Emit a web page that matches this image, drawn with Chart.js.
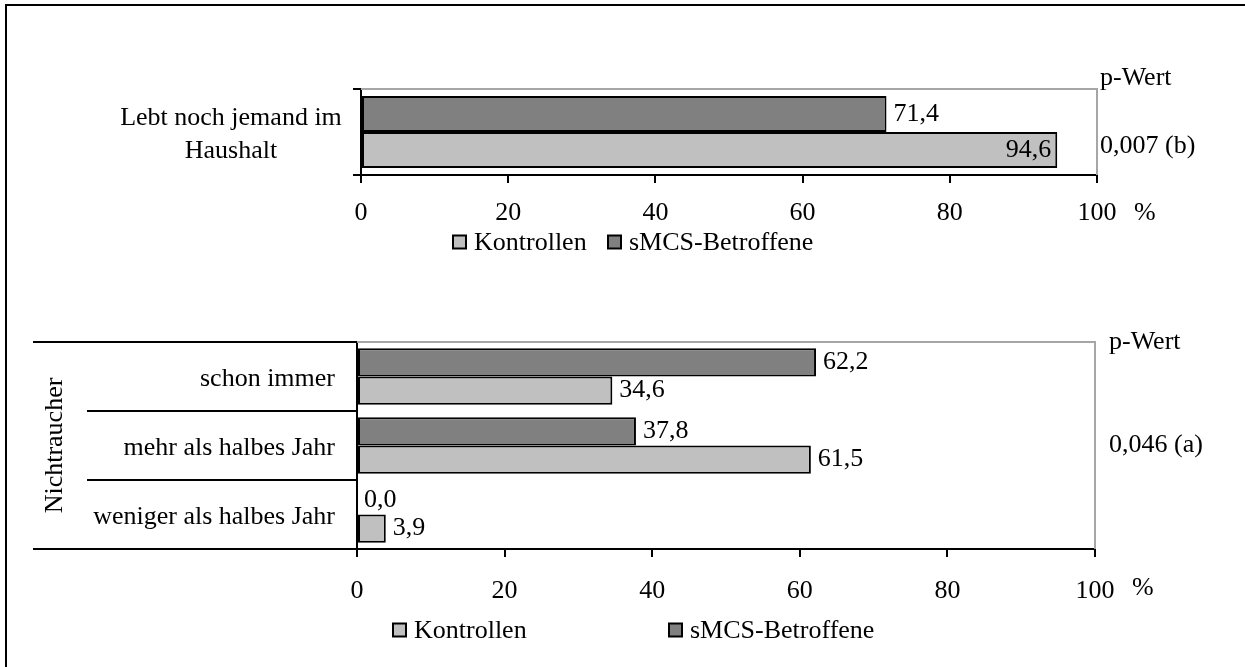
<!DOCTYPE html>
<html>
<head>
<meta charset="utf-8">
<title>Haushalt / Nichtraucher</title>
<script src="https://cdn.jsdelivr.net/npm/chart.js@4.4.0/dist/chart.umd.min.js"></script>
<style>
  html, body { margin: 0; padding: 0; background: #fff; }
  #page { position: relative; width: 1245px; height: 667px; overflow: hidden; background: #fff; }
  #frame { position: absolute; left: 5px; top: 4px; width: 1300px; height: 700px; border: 2px solid #000; }
  canvas { position: absolute; left: 0; }
  #topChart { top: 0; }
  #bottomChart { top: 300px; }
</style>
</head>
<body>
<div id="page">
  <div id="frame"></div>
  <canvas id="topChart" width="1245" height="300"></canvas>
  <canvas id="bottomChart" width="1245" height="367"></canvas>
</div>

<script>
// ===================================================
// Data
// ===================================================
const seriesNames = ["Kontrollen", "sMCS-Betroffene"];

const topCategories = [["Lebt noch jemand im", "Haushalt"]];
const topKontrollen = [94.6];
const topBetroffene = [71.4];
const topPValue = "0,007 (b)";

const bottomGroup = "Nichtraucher";
const bottomCategories = ["schon immer", "mehr als halbes Jahr", "weniger als halbes Jahr"];
const bottomKontrollen = [34.6, 61.5, 3.9];
const bottomBetroffene = [62.2, 37.8, 0.0];
const bottomPValue = "0,046 (a)";

const pLabel = "p-Wert";
const unitLabel = "%";
const xMin = 0, xMax = 100, xStep = 20;

// --- Style ---
const FONT = "'Liberation Serif', 'Times New Roman', serif";
const FONT_SIZE = 26;
const DARK = "#808080";
const LIGHT = "#c0c0c0";

function fmt(v) { return v.toFixed(1).replace(".", ","); }

// --- Extra drawing: frame, labels, legend, p-values ---
const extrasPlugin = {
  id: "extras",
  beforeDatasetsDraw(chart) {
    const a = chart.chartArea, ctx = chart.ctx;
    ctx.save();
    ctx.strokeStyle = "#a6a6a6";
    ctx.lineWidth = 2;
    ctx.beginPath();
    ctx.moveTo(a.left, a.top);
    ctx.lineTo(a.right, a.top);
    ctx.lineTo(a.right, a.bottom);
    ctx.stroke();
    ctx.restore();
  },
  afterDatasetsDraw(chart) {
    // value labels at bar ends (inside the bar if there is no room outside)
    const ctx = chart.ctx, a = chart.chartArea;
    ctx.save();
    ctx.font = FONT_SIZE + "px " + FONT;
    ctx.fillStyle = "#000";
    ctx.textBaseline = "middle";
    chart.data.datasets.forEach((ds, di) => {
      chart.getDatasetMeta(di).data.forEach((bar, i) => {
        const txt = fmt(ds.data[i]);
        const w = ctx.measureText(txt).width;
        if (bar.x + 7 + w > a.right) {
          ctx.textAlign = "right";
          ctx.fillText(txt, bar.x - 6, bar.y);
        } else {
          ctx.textAlign = "left";
          ctx.fillText(txt, bar.x + 7, bar.y);
        }
      });
    });
    ctx.restore();
  },
  afterDraw(chart, args, o) {
    const ctx = chart.ctx, a = chart.chartArea;
    const yScale = chart.scales.y;
    ctx.save();
    ctx.font = FONT_SIZE + "px " + FONT;
    ctx.fillStyle = "#000";
    ctx.textBaseline = "alphabetic";

    // category labels
    chart.data.labels.forEach((label, i) => {
      const lines = Array.isArray(label) ? label : [label];
      const cy = yScale.getPixelForValue(i);
      const first = cy + 9 - (lines.length - 1) * 33 / 2;
      ctx.textAlign = o.catAlign;
      lines.forEach((ln, k) => ctx.fillText(ln, o.catX, first + k * 33));
    });

    // row separators of the grouped axis
    if (o.separators) {
      const n = chart.data.labels.length;
      ctx.strokeStyle = "#000";
      ctx.lineWidth = 2;
      for (let i = 0; i <= n; i++) {
        const y = Math.round(yScale.getPixelForValue(i - 0.5));
        const x0 = (i === 0 || i === n) ? o.separators.outer : o.separators.inner;
        ctx.beginPath();
        ctx.moveTo(x0, y);
        ctx.lineTo(a.left, y);
        ctx.stroke();
      }
    }

    // rotated group label
    if (o.group) {
      ctx.save();
      ctx.translate(o.group.x, (a.top + a.bottom) / 2);
      ctx.rotate(-Math.PI / 2);
      ctx.textAlign = "center";
      ctx.fillText(o.group.text, 0, 0);
      ctx.restore();
    }

    // unit and p-value
    ctx.textAlign = "left";
    ctx.fillText(unitLabel, o.unit.x, o.unit.y);
    ctx.fillText(pLabel, o.p.x, o.p.headY);
    ctx.fillText(o.p.text, o.p.x, o.p.valueY);

    // legend
    ctx.textBaseline = "middle";
    const colors = [LIGHT, DARK];
    seriesNames.forEach((name, i) => {
      const x = o.legend.xs[i], y = o.legend.y;
      ctx.fillStyle = colors[i];
      ctx.fillRect(x, y - 6.5, 13, 13);
      ctx.strokeStyle = "#000";
      ctx.lineWidth = 2;
      ctx.strokeRect(x, y - 6.5, 13, 13);
      ctx.fillStyle = "#000";
      ctx.fillText(name, x + 21, y + 1);
    });
    ctx.restore();
  }
};

// --- Chart builder ---
function buildChart(canvasId, cfg) {
  return new Chart(document.getElementById(canvasId), {
    type: "bar",
    data: {
      labels: cfg.labels,
      datasets: [
        { label: seriesNames[1], data: cfg.betroffene, backgroundColor: DARK },
        { label: seriesNames[0], data: cfg.kontrollen, backgroundColor: LIGHT }
      ]
    },
    options: {
      indexAxis: "y",
      responsive: false,
      animation: false,
      devicePixelRatio: 1,
      layout: { padding: { top: cfg.top, right: cfg.right, bottom: 0, left: 0 } },
      datasets: {
        bar: {
          categoryPercentage: cfg.catPct,
          barPercentage: 1,
          borderColor: "#000",
          borderWidth: 2,
          borderSkipped: false
        }
      },
      scales: {
        x: {
          type: "linear",
          min: xMin,
          max: xMax,
          ticks: {
            stepSize: xStep,
            color: "#000",
            padding: cfg.tickPad,
            maxRotation: 0,
            font: { family: FONT, size: FONT_SIZE }
          },
          grid: { drawOnChartArea: false, drawTicks: true, tickLength: 8, color: "#000", lineWidth: 2 },
          border: { color: "#000", width: 2 },
          afterFit: s => { s.height = cfg.xHeight; }
        },
        y: {
          type: "category",
          offset: true,
          ticks: { display: false },
          grid: {
            drawOnChartArea: false,
            drawTicks: cfg.yTicks,
            tickLength: cfg.yTicks ? 8 : 0,
            color: "#000",
            lineWidth: 2,
            offset: true
          },
          border: { color: "#000", width: 2 },
          afterFit: s => { s.width = cfg.left; }
        }
      },
      plugins: {
        legend: { display: false },
        tooltip: { enabled: false },
        extras: cfg.extras
      }
    },
    plugins: [extrasPlugin]
  });
}

// ===================================================
// Main
// ===================================================
buildChart("topChart", {
  labels: topCategories,
  kontrollen: topKontrollen,
  betroffene: topBetroffene,
  top: 89, right: 148, left: 361, xHeight: 125, tickPad: 15,
  catPct: 0.84, yTicks: true,
  extras: {
    catAlign: "center", catX: 231,
    unit: { x: 1134, y: 220 },
    p: { x: 1100, headY: 85, valueY: 153, text: topPValue },
    legend: { y: 242, xs: [453, 608] }
  }
});

buildChart("bottomChart", {
  labels: bottomCategories,
  kontrollen: bottomKontrollen,
  betroffene: bottomBetroffene,
  top: 42, right: 150, left: 357, xHeight: 118, tickPad: 19,
  catPct: 0.82, yTicks: false,
  extras: {
    catAlign: "right", catX: 335,
    separators: { outer: 33, inner: 87 },
    group: { x: 62, text: bottomGroup },
    unit: { x: 1132, y: 295 },
    p: { x: 1109, headY: 49, valueY: 152, text: bottomPValue },
    legend: { y: 330, xs: [393, 669] }
  }
});
</script>
</body>
</html>
